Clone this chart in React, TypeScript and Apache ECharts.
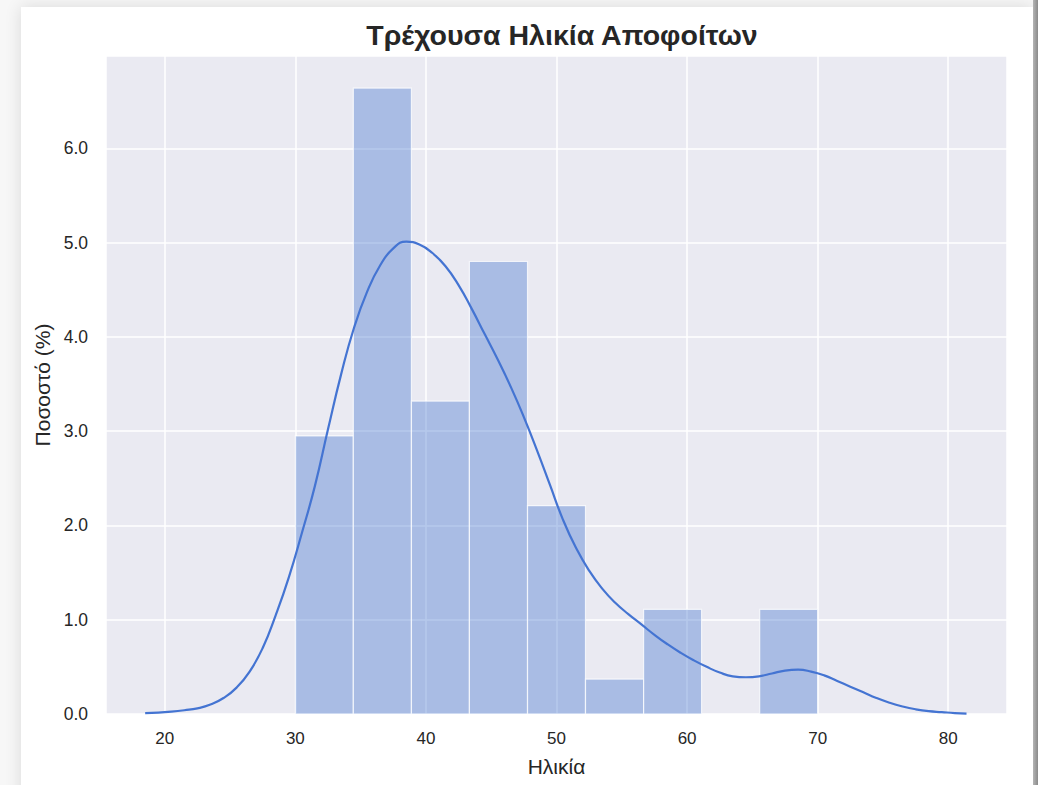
import React, { useEffect, useRef } from "react";
import * as echarts from "echarts";

const titleText = "Τρέχουσα Ηλικία Αποφοίτων";
const xName = "Ηλικία";
const yName = "Ποσοστό (%)";

const binEdges = [30, 34.44, 38.89, 43.33, 47.78, 52.22, 56.67, 61.11, 65.56, 70];
const binHeights = [2.95, 6.64, 3.32, 4.8, 2.21, 0.37, 1.11, 0, 1.11];

const kdeX = [18.5, 19.5, 20.5, 21.5, 22.5, 23.5, 24.5, 25.5, 26.5, 27.5, 28.5, 29.5, 30.5, 31.5, 32.5, 33.5, 34.5, 35.5, 36.5, 37.5, 38.5, 39.5, 40.5, 41.5, 42.5, 43.5, 44.5, 45.5, 46.5, 47.5, 48.5, 49.5, 50.5, 51.5, 52.5, 53.5, 54.5, 55.5, 56.5, 57.5, 58.5, 59.5, 60.5, 61.5, 62.5, 63.5, 64.5, 65.5, 66.5, 67.5, 68.5, 69.5, 70.5, 71.5, 72.5, 73.5, 74.5, 75.5, 76.5, 77.5, 78.5, 79.5, 80.5, 81.4];
const kdeY = [0.01, 0.015, 0.025, 0.04, 0.06, 0.1, 0.17, 0.28, 0.45, 0.7, 1.05, 1.45, 1.92, 2.42, 3.02, 3.6, 4.1, 4.48, 4.76, 4.94, 5.01, 4.98, 4.89, 4.75, 4.55, 4.3, 4.03, 3.76, 3.47, 3.15, 2.8, 2.43, 2.06, 1.76, 1.52, 1.33, 1.18, 1.06, 0.95, 0.84, 0.74, 0.65, 0.57, 0.5, 0.44, 0.4, 0.39, 0.4, 0.43, 0.46, 0.47, 0.45, 0.41, 0.35, 0.29, 0.23, 0.17, 0.12, 0.08, 0.05, 0.03, 0.02, 0.01, 0.005];

const FONT = "'Liberation Sans', Arial, sans-serif";
const TEXT = "#262626";

export default function App() {
  const ref = useRef<HTMLDivElement>(null);
  useEffect(() => {
    if (!ref.current) return;
    const chart = echarts.init(ref.current, undefined, { renderer: "svg" });
    const barData = binHeights.map((h, i) => [binEdges[i], binEdges[i + 1], h]);
    const lineData = kdeX.map((x, i) => [x, kdeY[i]]);
    chart.setOption({
      animation: false,
      title: {
        text: titleText,
        left: 557,
        textAlign: "center",
        top: 15,
        textStyle: { fontFamily: FONT, fontSize: 28.5, fontWeight: "bold", color: TEXT },
      },
      grid: {
        left: 106,
        right: 31,
        top: 56,
        bottom: 71,
        show: true,
        backgroundColor: "#EAEAF2",
        borderWidth: 0,
      },
      xAxis: {
        type: "value",
        min: 15.5,
        max: 84.5,
        name: xName,
        nameLocation: "middle",
        nameGap: 42,
        nameTextStyle: { fontFamily: FONT, fontSize: 21, color: TEXT },
        axisLine: { show: false },
        axisTick: { show: false },
        axisLabel: {
          fontFamily: FONT,
          fontSize: 17,
          color: TEXT,
          margin: 16,
          showMinLabel: false,
          showMaxLabel: false,
          formatter: (v: number) => (Math.abs(v % 10) < 1e-6 ? String(v) : ""),
        },
        splitLine: { show: true, lineStyle: { color: "#ffffff", width: 1.5 } },
      },
      yAxis: {
        type: "value",
        min: 0,
        max: 6.98,
        interval: 1,
        name: yName,
        nameLocation: "middle",
        nameGap: 53,
        nameTextStyle: { fontFamily: FONT, fontSize: 21, color: TEXT },
        axisLine: { show: false },
        axisTick: { show: false },
        axisLabel: {
          fontFamily: FONT,
          fontSize: 17.5,
          color: TEXT,
          margin: 18,
          showMaxLabel: false,
          formatter: (v: number) => (Math.abs(v - Math.round(v)) < 1e-6 ? v.toFixed(1) : ""),
        },
        splitLine: { show: true, lineStyle: { color: "#ffffff", width: 1.5 } },
      },
      series: [
        {
          type: "custom",
          data: barData,
          encode: { x: [0, 1], y: 2 },
          z: 2,
          renderItem: (params: any, api: any) => {
            const h = api.value(2);
            if (!h) return null;
            const p0 = api.coord([api.value(0), h]);
            const p1 = api.coord([api.value(1), 0]);
            return {
              type: "rect",
              shape: { x: p0[0], y: p0[1], width: p1[0] - p0[0], height: p1[1] - p0[1] },
              style: { fill: "rgba(72,120,208,0.4)", stroke: "rgba(255,255,255,0.75)", lineWidth: 1.2 },
            };
          },
        },
        {
          type: "line",
          data: lineData,
          z: 3,
          showSymbol: false,
          symbol: "none",
          smooth: 0.5,
          lineStyle: { color: "#4474d2", width: 2.2 },
        },
      ],
    });
    return () => chart.dispose();
  }, []);

  return (
    <div style={{ position: "fixed", left: 0, top: 0, width: 1038, height: 785, background: "#f7f7f7", overflow: "hidden" }}>
      <div
        style={{
          position: "absolute",
          left: 21,
          top: 7,
          width: 1012,
          height: 800,
          background: "#ffffff",
          boxShadow: "0 0 16px rgba(0,0,0,0.12)",
        }}
      />
      <div
        style={{
          position: "absolute",
          left: 1033,
          top: 0,
          width: 5,
          height: 785,
          background: "linear-gradient(to right, #b5b5b5, #8a8a8a)",
        }}
      />
      <div ref={ref} style={{ position: "absolute", left: 0, top: 0, width: 1038, height: 785 }} />
    </div>
  );
}
